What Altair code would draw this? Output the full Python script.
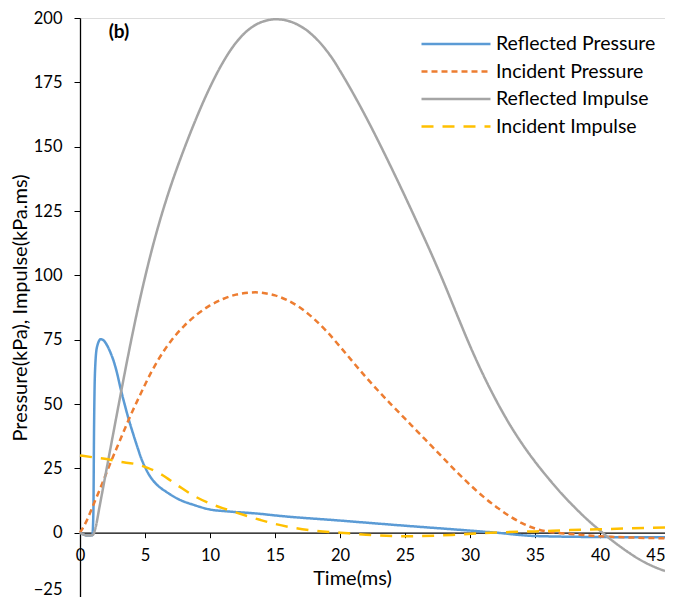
import altair as alt
import pandas as pd

series_names = ["Reflected Pressure", "Incident Pressure", "Reflected Impulse", "Incident Impulse"]
series_colors = ["#5B9BD5", "#ED7D31", "#A5A5A5", "#FFC000"]
series_dashes = [[1, 0], [6, 4], [1, 0], [12, 9]]

# Reflected Pressure
rp_t = [0, 0.3, 0.6, 0.95, 1.03, 1.08, 1.15, 1.3, 1.6, 1.8, 2.0, 2.3, 2.6, 2.85, 3.1, 3.4, 3.75, 4.05, 4.4, 4.7, 5.0, 5.3, 5.6, 6.1, 6.6, 7.5, 8.8, 10.0, 11.3, 13.9, 15, 20, 25, 30, 32, 35, 40, 45]
rp_v = [0, -0.8, -1.1, -1.0, 8, 40, 62, 72, 75.2, 74.8, 73.5, 70.5, 66.5, 62, 56.5, 50.5, 44, 39, 33.5, 29, 25.5, 22.6, 20.4, 17.8, 16, 13.2, 10.7, 9.0, 8.3, 7.3, 6.7, 4.7, 2.7, 0.8, 0, -1.3, -1.7, -1.8]

# Incident Pressure
ip_t = [0, 0.5, 1, 1.5, 2, 2.5, 3, 3.5, 4, 4.5, 5, 5.5, 6, 6.5, 7, 8, 9, 10, 11, 12, 13, 13.5, 14, 15, 16, 17, 18, 19, 20, 21, 22, 23, 24, 25, 26, 27, 28, 29, 30, 31, 32, 33, 34, 35, 36, 37, 38, 40, 42.5, 45]
ip_v = [0, 4.5, 10.5, 16.5, 22.8, 29, 35, 41, 46.8, 52.2, 57.5, 62.5, 67, 71, 74.5, 80.3, 84.8, 88.3, 90.8, 92.5, 93.3, 93.4, 93.2, 92.2, 90.2, 87.2, 83.1, 78.1, 72.3, 66.3, 60.4, 54.8, 49.5, 44.3, 39.1, 33.9, 28.7, 23.5, 18.6, 14.1, 10.1, 6.6, 3.7, 1.6, 0.4, -0.2, -0.6, -1.4, -1.9, -2.2]

# Reflected Impulse
ri_t = [0, 0.3, 0.6, 0.95, 1.05, 1.2, 1.5, 2, 2.5, 3, 3.5, 4, 4.5, 5, 5.5, 6, 6.5, 7, 7.5, 8, 8.5, 9, 9.5, 10, 10.5, 11, 11.5, 12, 12.5, 13, 13.5, 14, 14.5, 15, 15.5, 16, 16.5, 17, 17.5, 18, 18.5, 19, 19.5, 20, 21, 22, 23, 24, 25, 26, 27, 28, 29, 30, 31, 32, 33, 34, 35, 36, 37, 38, 39, 40, 41, 42, 43, 44, 45]
ri_v = [0, -0.8, -1.1, -1.0, -0.5, 2, 10, 23.5, 37, 50.4, 63.6, 76.3, 88.2, 99.2, 109.4, 118.7, 127.2, 135, 142.2, 149, 155.5, 161.7, 167.6, 173.1, 178.2, 182.8, 186.9, 190.4, 193.3, 195.6, 197.3, 198.5, 199.2, 199.5, 199.4, 198.9, 198.0, 196.7, 195.0, 192.8, 190.2, 187.1, 183.6, 179.5, 170.8, 161.5, 151.6, 141.3, 130.7, 119.8, 108.7, 97.0, 84.7, 72.6, 61.5, 51.5, 42.5, 34.6, 27.6, 21.3, 15.4, 10.1, 5.2, 0.8, -3.3, -7.0, -10.3, -12.9, -14.9]

# Incident Impulse
ii_t = [0, 1.0, 1.9, 3.0, 4.4, 5.2, 6.2, 7.5, 8.7, 10.0, 11.3, 13.9, 15, 18, 20, 22, 25, 28.6, 31.6, 35, 37.7, 40.4, 45]
ii_v = [30, 29.3, 28.7, 27.6, 26.5, 25.2, 22.8, 18.4, 14.5, 11.3, 9.0, 4.9, 3.4, 0.8, 0, -0.8, -1.4, -0.9, 0, 0.5, 1.0, 1.4, 2.0]

all_t = [rp_t, ip_t, ri_t, ii_t]
all_v = [rp_v, ip_v, ri_v, ii_v]

rows = []
for k, (name, ts, vs) in enumerate(zip(series_names, all_t, all_v)):
    for i, (t, v) in enumerate(zip(ts, vs)):
        rows.append({"series": name, "t": t, "v": v, "idx": i, "k": k})
df = pd.DataFrame(rows)

FONT = "Lato"
PLOT_H = 579
ZERO_OFFSET = -round(PLOT_H * 25 / 225, 1)

x_enc = alt.X("t:Q",
              scale=alt.Scale(domain=[0, 45], nice=False, zero=False),
              axis=alt.Axis(title="Time(ms)", values=list(range(0, 50, 5)), offset=ZERO_OFFSET,
                            grid=False, domainColor="black", tickColor="black", tickSize=5,
                            labelFontSize=16.5, labelColor="black", labelFont=FONT,
                            labelFlush=False,
                            labelAlign=alt.condition("datum.value == 45", alt.value("right"), alt.value("center")),
                            titleFontSize=20, titleFont=FONT, titleFontWeight="normal",
                            titleColor="black", titlePadding=4, labelPadding=10, titleX=272,
                            labelOverlap=False, domainWidth=1.3))
y_enc = alt.Y("v:Q",
              scale=alt.Scale(domain=[-25, 200], nice=False, zero=False),
              axis=alt.Axis(title="Pressure(kPa), Impulse(kPa.ms)", values=list(range(-25, 201, 25)),
                            grid=False, domainColor="black", tickColor="black", tickSize=6,
                            labelFontSize=16.5, labelColor="black", labelFont=FONT,
                            labelBaseline=alt.condition("datum.value == -25", alt.value("bottom"), alt.value("middle")),
                            titleFontSize=20, titleFont=FONT, titleFontWeight="normal",
                            titleColor="black", titlePadding=3, labelPadding=12,
                            domainWidth=1.3))

legend = alt.Legend(title=None, orient="none", legendX=340, legendY=16,
                    symbolType="stroke", symbolSize=4761, symbolStrokeWidth=2.5,
                    clipHeight=20,
                    labelFontSize=19.5, labelFont=FONT, labelColor="black",
                    labelOffset=4, rowPadding=7.5, labelLimit=300)

lines = alt.Chart(df).mark_line(strokeWidth=2.5, interpolate="monotone").encode(
    x=x_enc,
    y=y_enc,
    color=alt.Color("series:N", scale=alt.Scale(domain=series_names, range=series_colors), legend=legend),
    strokeDash=alt.StrokeDash("series:N", scale=alt.Scale(domain=series_names, range=series_dashes), legend=legend),
    order="idx:Q",
    detail="series:N",
)

label = alt.Chart(pd.DataFrame({"txt": ["(b)"]})).mark_text(
    font=FONT, fontSize=19, fontWeight="bold", align="center", baseline="middle", color="black"
).encode(x=alt.value(39), y=alt.value(14), text="txt:N")

chart = alt.layer(lines, label).properties(
    width=585, height=PLOT_H,
    autosize=alt.AutoSizeParams(type="none"),
    padding={"left": 72, "top": 10, "right": 0, "bottom": 0},
).configure_view(stroke=None).configure(background="white")

chart.save("out.html", embed_options={"renderer": "svg", "actions": False})
